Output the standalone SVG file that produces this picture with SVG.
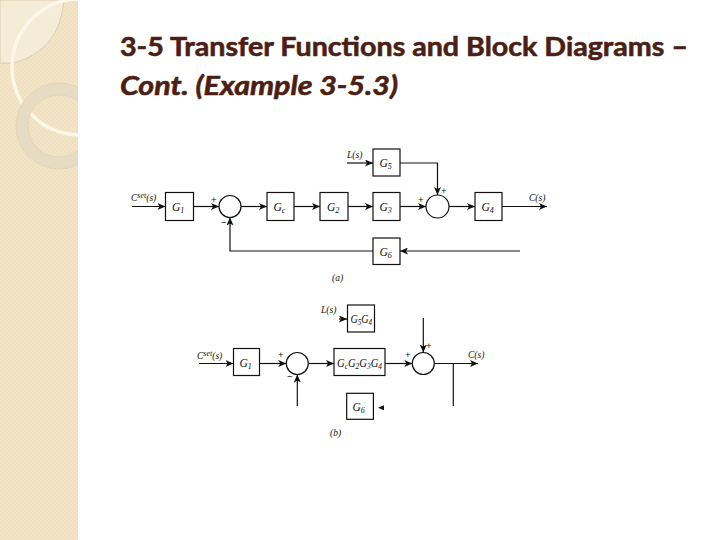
<svg xmlns="http://www.w3.org/2000/svg" width="720" height="540" viewBox="0 0 720 540">
<style>
.ln{fill:none;stroke:#111;stroke-width:1.2}
.bx{fill:#fff;stroke:#111;stroke-width:1.2}
.lb{font-family:"Liberation Serif",serif;font-style:italic;font-size:11.5px;fill:#111}
.sm{font-family:"Liberation Serif",serif;font-style:italic;font-size:9.5px;fill:#111}
.sb{font-size:8px}
.sg{font-family:"Liberation Sans",sans-serif;font-size:9.5px;fill:#111}
.tt{font-family:Lato,"Liberation Sans",sans-serif;fill:#4b1f14;stroke:#4b1f14;stroke-width:0.6;font-size:27px;font-weight:700}
</style>
<defs>
<marker id="ar" markerUnits="userSpaceOnUse" markerWidth="9" markerHeight="7" refX="8" refY="3.5" orient="auto">
<path d="M0,0 L8,3.5 L0,7 L2,3.5 Z" fill="#111"/>
</marker>
<pattern id="tex" width="4" height="4" patternUnits="userSpaceOnUse">
<rect width="4" height="4" fill="#efe0bf"/>
<rect width="2" height="2" fill="#f2e5c7"/>
<rect x="2" y="2" width="2" height="2" fill="#f2e5c7"/>
</pattern>
<clipPath id="pc"><rect width="78" height="540"/></clipPath>
</defs>
<rect width="720" height="540" fill="#fff"/>
<g id="sidebar">
<rect width="78" height="540" fill="url(#tex)"/>
<g clip-path="url(#pc)">
<path d="M0,0 H64 Q60,50 14,63 H0 Z" fill="#f5ecd8" stroke="#d9c7a3" stroke-width="0.8"/>
<circle cx="80" cy="67" r="68" fill="none" stroke="#fcf7e8" stroke-width="3.5"/>
<circle cx="59" cy="126" r="37" fill="none" stroke="#e6dcc4" stroke-width="12"/>
<circle cx="59" cy="126" r="43" fill="none" stroke="#dccfb2" stroke-width="0.6"/>
<circle cx="59" cy="126" r="31" fill="none" stroke="#dccfb2" stroke-width="0.6"/>
</g>
</g>
<g id="title">
<text class="tt" x="120" y="56" textLength="568" lengthAdjust="spacingAndGlyphs">3-5 Transfer Functions and Block Diagrams –</text>
<text class="tt" x="120" y="95" font-style="italic" textLength="278" lengthAdjust="spacingAndGlyphs">Cont. (Example 3-5.3)</text>
</g>
<g id="connectors">
<path class="ln" d="M132,206.5 H165.5" marker-end="url(#ar)"/>
<path class="ln" d="M193.5,206.5 H219" marker-end="url(#ar)"/>
<path class="ln" d="M241,206.5 H267" marker-end="url(#ar)"/>
<path class="ln" d="M294,206.5 H320" marker-end="url(#ar)"/>
<path class="ln" d="M348,206.5 H373" marker-end="url(#ar)"/>
<path class="ln" d="M400,206.5 H426" marker-end="url(#ar)"/>
<path class="ln" d="M347,163 H373" marker-end="url(#ar)"/>
<path class="ln" d="M400,163 H437.5 V195" marker-end="url(#ar)"/>
<path class="ln" d="M449,206.5 H475" marker-end="url(#ar)"/>
<path class="ln" d="M502,206.5 H547" marker-end="url(#ar)"/>
<path class="ln" d="M520,251 H400" marker-end="url(#ar)"/>
<path class="ln" d="M373,251 H230 V217.5" marker-end="url(#ar)"/>
<path class="ln" d="M339,319 H347" marker-end="url(#ar)"/>
<path class="ln" d="M199,363.5 H233.5" marker-end="url(#ar)"/>
<path class="ln" d="M259.5,363.5 H286.3" marker-end="url(#ar)"/>
<path class="ln" d="M308.3,363.5 H334" marker-end="url(#ar)"/>
<path class="ln" d="M385,363.5 H412.3" marker-end="url(#ar)"/>
<path class="ln" d="M423.3,318 V352.5" marker-end="url(#ar)"/>
<path class="ln" d="M434.3,363.5 H478" marker-end="url(#ar)"/>
<path class="ln" d="M453.3,363.5 V406"/>
<path class="ln" d="M297.3,406 V374.5" marker-end="url(#ar)"/>
<path d="M378,407.7 L384,405.2 L384,410.2 Z" fill="#111"/>
</g>
<g id="labels-a">
<text class="sm" x="131" y="201">C<tspan class="sb" dy="-3.5">set</tspan><tspan dy="3.5">(s)</tspan></text>
<text class="sm" x="347" y="158">L(s)</text>
<text class="sm" x="529" y="201">C(s)</text>
<text class="sm" x="332" y="281">(a)</text>
<text class="sg" x="211" y="203">+</text>
<text class="sg" x="221" y="226">−</text>
<text class="sg" x="418" y="203">+</text>
<text class="sg" x="441" y="194">+</text>
</g>
<g id="a-G1"><rect class="bx" x="165.5" y="192.5" width="28" height="28"/><text class="lb" x="172" y="210.5">G<tspan class="sb" dy="2">1</tspan></text></g>
<g id="a-sum1"><circle class="bx" cx="230" cy="206.5" r="11"/></g>
<g id="a-Gc"><rect class="bx" x="267" y="192.5" width="27" height="28"/><text class="lb" x="273.5" y="210.5">G<tspan class="sb" dy="2">c</tspan></text></g>
<g id="a-G2"><rect class="bx" x="320" y="192.5" width="28" height="28"/><text class="lb" x="327" y="210.5">G<tspan class="sb" dy="2">2</tspan></text></g>
<g id="a-G3"><rect class="bx" x="373" y="192.5" width="27" height="28"/><text class="lb" x="379.5" y="210.5">G<tspan class="sb" dy="2">3</tspan></text></g>
<g id="a-G5"><rect class="bx" x="373" y="149" width="27" height="27"/><text class="lb" x="379.5" y="166.5">G<tspan class="sb" dy="2">5</tspan></text></g>
<g id="a-sum2"><circle class="bx" cx="437.5" cy="206.5" r="11.5"/></g>
<g id="a-G4"><rect class="bx" x="475" y="192.5" width="27" height="28"/><text class="lb" x="481.5" y="210.5">G<tspan class="sb" dy="2">4</tspan></text></g>
<g id="a-G6"><rect class="bx" x="373" y="238" width="27" height="26.5"/><text class="lb" x="379.5" y="255.5">G<tspan class="sb" dy="2">6</tspan></text></g>
<g id="labels-b">
<text class="sm" x="321" y="313">L(s)</text>
<text class="sm" x="197" y="359">C<tspan class="sb" dy="-3.5">set</tspan><tspan dy="3.5">(s)</tspan></text>
<text class="sm" x="468" y="358">C(s)</text>
<text class="sm" x="330" y="436">(b)</text>
<text class="sg" x="278" y="358">+</text>
<text class="sg" x="287" y="380">−</text>
<text class="sg" x="405" y="358">+</text>
<text class="sg" x="426" y="349" font-size="7">+</text>
</g>
<g id="b-G5G4"><rect class="bx" x="347.5" y="305" width="27" height="27"/><text class="lb" x="350.5" y="322.5" textLength="21.5" lengthAdjust="spacingAndGlyphs">G<tspan class="sb" dy="2">5</tspan><tspan dy="-2">G</tspan><tspan class="sb" dy="2">4</tspan></text></g>
<g id="b-G1"><rect class="bx" x="233.5" y="348.5" width="26" height="27"/><text class="lb" x="239.5" y="366.5">G<tspan class="sb" dy="2">1</tspan></text></g>
<g id="b-sum1"><circle class="bx" cx="297.3" cy="363.5" r="11"/></g>
<g id="b-Gall"><rect class="bx" x="334" y="348.5" width="51" height="27"/><text class="lb" x="337" y="366.5" textLength="45" lengthAdjust="spacingAndGlyphs">G<tspan class="sb" dy="2">c</tspan><tspan dy="-2">G</tspan><tspan class="sb" dy="2">2</tspan><tspan dy="-2">G</tspan><tspan class="sb" dy="2">3</tspan><tspan dy="-2">G</tspan><tspan class="sb" dy="2">4</tspan></text></g>
<g id="b-sum2"><circle class="bx" cx="423.3" cy="363.5" r="11"/></g>
<g id="b-G6"><rect class="bx" x="346.7" y="393.3" width="26.7" height="26"/><text class="lb" x="352.5" y="410.5">G<tspan class="sb" dy="2">6</tspan></text></g>
</svg>
